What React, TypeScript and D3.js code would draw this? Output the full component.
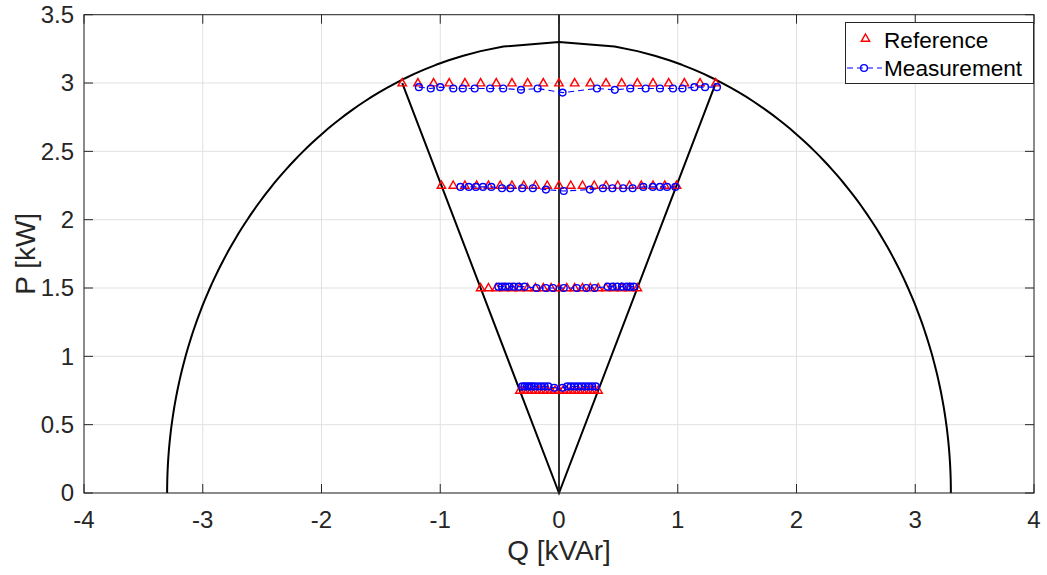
import React from "react";
import * as d3 from "d3";

// ---- Data ----
const xTicks = [-4, -3, -2, -1, 0, 1, 2, 3, 4];
const yTicks = [0, 0.5, 1, 1.5, 2, 2.5, 3, 3.5];
const xTickLabels = ["-4", "-3", "-2", "-1", "0", "1", "2", "3", "4"];
const yTickLabels = ["0", "0.5", "1", "1.5", "2", "2.5", "3", "3.5"];

// apparent power limit (semicircle radius) and cone edge
const sMax = 3.3;
const coneTopP = 3;
const coneTopQ = 1.32;

// Reference points (P levels and Q set-points)
const refLevels = [3, 2.25, 1.5, 0.75];
const refQ3 = [-1.32, -1.188, -1.056, -0.924, -0.792, -0.66, -0.528, -0.396, -0.264, -0.132, 0, 0.132, 0.264, 0.396, 0.528, 0.66, 0.792, 0.924, 1.056, 1.188, 1.32];
const refQ225 = [-0.99, -0.891, -0.792, -0.693, -0.594, -0.495, -0.396, -0.297, -0.198, -0.099, 0, 0.099, 0.198, 0.297, 0.396, 0.495, 0.594, 0.693, 0.792, 0.891, 0.99];
const refQ15 = [-0.66, -0.594, -0.528, -0.462, -0.396, -0.33, -0.264, -0.198, -0.132, -0.066, 0, 0.066, 0.132, 0.198, 0.264, 0.33, 0.396, 0.462, 0.528, 0.594, 0.66];
const refQ075 = [-0.33, -0.297, -0.264, -0.231, -0.198, -0.165, -0.132, -0.099, -0.066, -0.033, 0, 0.033, 0.066, 0.099, 0.132, 0.165, 0.198, 0.231, 0.264, 0.297, 0.33];

// Measurements
const measQ3 = [-1.18, -1.08, -1.0, -0.89, -0.81, -0.71, -0.58, -0.47, -0.32, -0.18, 0.03, 0.32, 0.47, 0.6, 0.73, 0.85, 0.96, 1.04, 1.14, 1.23, 1.33];
const measP3 = [2.97, 2.96, 2.97, 2.96, 2.96, 2.96, 2.96, 2.96, 2.95, 2.96, 2.93, 2.96, 2.95, 2.96, 2.96, 2.96, 2.96, 2.96, 2.97, 2.97, 2.97];
const measQ225 = [-0.83, -0.76, -0.7, -0.64, -0.57, -0.48, -0.41, -0.31, -0.22, -0.11, 0.04, 0.26, 0.37, 0.45, 0.54, 0.62, 0.71, 0.79, 0.85, 0.91, 0.98];
const measP225 = [2.24, 2.24, 2.24, 2.24, 2.24, 2.23, 2.23, 2.23, 2.23, 2.22, 2.21, 2.22, 2.23, 2.23, 2.23, 2.23, 2.24, 2.24, 2.24, 2.24, 2.24];
const measQ15 = [-0.51, -0.48, -0.45, -0.42, -0.38, -0.34, -0.29, -0.19, -0.11, -0.05, 0.04, 0.15, 0.23, 0.3, 0.41, 0.45, 0.49, 0.53, 0.57, 0.6, 0.63];
const measP15 = [1.51, 1.51, 1.51, 1.51, 1.51, 1.51, 1.51, 1.5, 1.5, 1.5, 1.5, 1.5, 1.5, 1.5, 1.51, 1.51, 1.51, 1.51, 1.51, 1.51, 1.51];
const measQ075 = [-0.31, -0.29, -0.27, -0.25, -0.23, -0.21, -0.18, -0.15, -0.12, -0.09, -0.04, 0.03, 0.07, 0.1, 0.13, 0.16, 0.19, 0.22, 0.25, 0.28, 0.31];
const measP075 = [0.78, 0.78, 0.78, 0.78, 0.78, 0.78, 0.78, 0.78, 0.78, 0.78, 0.77, 0.77, 0.78, 0.78, 0.78, 0.78, 0.78, 0.78, 0.78, 0.78, 0.78];

const refSets = [refQ3, refQ225, refQ15, refQ075];
const measSets = [
  [measQ3, measP3],
  [measQ225, measP225],
  [measQ15, measP15],
  [measQ075, measP075],
];

const W = 1047;
const H = 575;
const FONT = "'Liberation Sans', Arial, Helvetica, sans-serif";
const AX = "#262626";
const GRID = "#e1e1e1";
const RED = "#ff0000";
const BLUE = "#0000ff";

const x = d3.scaleLinear().domain([-4, 4]).range([84, 1034]);
const y = d3.scaleLinear().domain([0, 3.5]).range([493, 14.7]);

const triPath = "M0,-4.5 L4.2,2.8 L-4.2,2.8 Z";
const circR = 3.4;
const mStroke = 1.4;

export default function App() {
  const [x0, x1] = x.range();
  const [y0, y1] = y.range();

  // semicircle boundary sampled along P
  const nArc = 100;
  const pSamples = d3.range(nArc).map((i) => (sMax * i) / (nArc - 1));
  const left = pSamples.map((p) => [-Math.sqrt(Math.max(0, sMax * sMax - p * p)), p] as [number, number]);
  const right = pSamples
    .slice()
    .reverse()
    .map((p) => [Math.sqrt(Math.max(0, sMax * sMax - p * p)), p] as [number, number]);
  const arcPts = left.concat(right.slice(1));
  const line = d3
    .line<[number, number]>()
    .x((d) => x(d[0]))
    .y((d) => y(d[1]));

  const conePts: [number, number][] = [
    [-coneTopQ, coneTopP],
    [0, 0],
    [coneTopQ, coneTopP],
  ];

  const tickLen = 9;

  return (
    <div style={{ position: "fixed", left: 0, top: 0, width: W, height: H, background: "#fff" }}>
      <svg width={W} height={H} style={{ display: "block" }}>
        <rect x={0} y={0} width={W} height={H} fill="#fff" />
        {/* grid */}
        {xTicks.map((t) => (
          <line key={"gx" + t} x1={x(t)} x2={x(t)} y1={y0} y2={y1} stroke={GRID} strokeWidth={1} />
        ))}
        {yTicks.map((t) => (
          <line key={"gy" + t} x1={x0} x2={x1} y1={y(t)} y2={y(t)} stroke={GRID} strokeWidth={1} />
        ))}

        {/* boundaries */}
        <path d={line(arcPts) || ""} fill="none" stroke="#000" strokeWidth={2} strokeLinejoin="round" />
        <path d={line(conePts) || ""} fill="none" stroke="#000" strokeWidth={2} strokeLinejoin="miter" />
        <line x1={x(0)} x2={x(0)} y1={y(0)} y2={y(3.5)} stroke="#000" strokeWidth={1.6} />

        {/* reference markers */}
        {refSets.map((qs, li) =>
          qs.map((q, i) => (
            <path
              key={"r" + li + "-" + i}
              d={triPath}
              transform={`translate(${x(q)},${y(refLevels[li])})`}
              fill="none"
              stroke={RED}
              strokeWidth={mStroke}
            />
          ))
        )}

        {/* measurement */}
        {measSets.map(([qs, ps], li) => {
          const pts = qs.map((q, i) => [q, ps[i]] as [number, number]);
          return (
            <g key={"m" + li}>
              <path d={line(pts) || ""} fill="none" stroke={BLUE} strokeWidth={1.1} strokeDasharray="6,4" />
              {pts.map((d, i) => (
                <circle key={i} cx={x(d[0])} cy={y(d[1])} r={circR} fill="none" stroke={BLUE} strokeWidth={mStroke} />
              ))}
            </g>
          );
        })}

        {/* axes box */}
        <rect x={x0} y={y1} width={x1 - x0} height={y0 - y1} fill="none" stroke={AX} strokeWidth={1} />
        {xTicks.map((t) => (
          <g key={"tx" + t}>
            <line x1={x(t)} x2={x(t)} y1={y0} y2={y0 - tickLen} stroke={AX} strokeWidth={1} />
            <line x1={x(t)} x2={x(t)} y1={y1} y2={y1 + tickLen} stroke={AX} strokeWidth={1} />
          </g>
        ))}
        {yTicks.map((t) => (
          <g key={"ty" + t}>
            <line x1={x0} x2={x0 + tickLen} y1={y(t)} y2={y(t)} stroke={AX} strokeWidth={1} />
            <line x1={x1} x2={x1 - tickLen} y1={y(t)} y2={y(t)} stroke={AX} strokeWidth={1} />
          </g>
        ))}

        {/* tick labels */}
        {xTicks.map((t, i) => (
          <text
            key={"lx" + t}
            x={x(t)}
            y={528}
            textAnchor="middle"
            fontFamily={FONT}
            fontSize={24}
            fill={AX}
          >
            {xTickLabels[i]}
          </text>
        ))}
        {yTicks.map((t, i) => (
          <text
            key={"ly" + t}
            x={74}
            y={y(t)}
            dy="0.35em"
            textAnchor="end"
            fontFamily={FONT}
            fontSize={24}
            fill={AX}
          >
            {yTickLabels[i]}
          </text>
        ))}

        {/* axis labels */}
        <text x={(x0 + x1) / 2} y={560} textAnchor="middle" fontFamily={FONT} fontSize={28} fill={AX}>
          Q [kVAr]
        </text>
        <text
          transform={`translate(35,${(y0 + y1) / 2}) rotate(-90)`}
          textAnchor="middle"
          fontFamily={FONT}
          fontSize={28}
          fill={AX}
        >
          P [kW]
        </text>

        {/* legend */}
        <g>
          <rect x={845.5} y={22.5} width={188} height={61} fill="#fff" stroke={AX} strokeWidth={1} />
          <path d={triPath} transform="translate(865.5,38.5)" fill="none" stroke={RED} strokeWidth={mStroke} />
          <text x={884} y={48} fontFamily={FONT} fontSize={22.6} fill="#000">
            Reference
          </text>
          <line x1={847} x2={882} y1={68} y2={68} stroke={BLUE} strokeWidth={1.1} strokeDasharray="6,4" />
          <circle cx={864} cy={68} r={circR} fill="none" stroke={BLUE} strokeWidth={mStroke} />
          <text x={884} y={76} fontFamily={FONT} fontSize={22.6} fill="#000">
            Measurement
          </text>
        </g>
      </svg>
    </div>
  );
}
